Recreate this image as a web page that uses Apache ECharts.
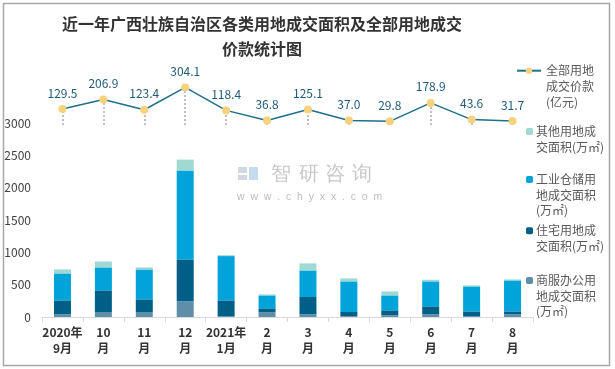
<!DOCTYPE html>
<html>
<head>
<meta charset="utf-8">
<script src="https://cdn.jsdelivr.net/npm/echarts@6/dist/echarts.min.js"></script>
<style>html,body{margin:0;padding:0;background:#fff}#c{width:615px;height:369px}</style>
</head>
<body>
<div id="c"></div>
<script>
var categories = ['2020年\n9月','10\n月','11\n月','12\n月','2021年\n1月','2\n月','3\n月','4\n月','5\n月','6\n月','7\n月','8\n月'];
var commercial = [41, 77, 77, 242, 10, 72, 41, 10, 26, 41, 10, 41];
var residential = [216, 335, 196, 648, 247, 62, 268, 67, 77, 124, 77, 46];
var industrial = [417, 355, 463, 1374, 685, 200, 411, 474, 231, 386, 386, 479];
var other = [62, 92, 31, 170, 15, 16, 109, 46, 62, 25, 16, 15];
var price = [129.5, 206.9, 123.4, 304.1, 118.4, 36.8, 125.1, 37.0, 29.8, 178.9, 43.6, 31.7];
var yTicks = [0, 500, 1000, 1500, 2000, 2500, 3000];

var names = {
  price: '全部用地成交价款(亿元)',
  other: '其他用地成交面积(万㎡)',
  industrial: '工业仓储用地成交面积(万㎡)',
  residential: '住宅用地成交面积(万㎡)',
  commercial: '商服办公用地成交面积(万㎡)'
};
var legendLines = {};
legendLines[names.price] = ['全部用地', '成交价款', '(亿元)'];
legendLines[names.other] = ['其他用地成', '交面积(万㎡)'];
legendLines[names.industrial] = ['工业仓储用', '地成交面积', '(万㎡)'];
legendLines[names.residential] = ['住宅用地成', '交面积(万㎡)'];
legendLines[names.commercial] = ['商服办公用', '地成交面积', '(万㎡)'];

var colors = {
  price: '#1f6f8e', marker: '#f6d27d',
  other: '#a0d8d4', industrial: '#00a3da', residential: '#005f86', commercial: '#5f8fa8'
};

function mkLegend(name, left, iconY, L, iconW, iconH, gap) {
  var lines = legendLines[name];
  var n = lines.length;
  var pre = [];
  for (var k = 0; k < n - 1; k++) pre.push(' ');
  var txt = pre.concat(lines).join('\n');
  return {
    data: [name], orient: 'vertical', left: left, top: iconY - (2 * n - 1) * L / 2,
    padding: 0, itemWidth: iconW, itemHeight: iconH, itemGap: 0,
    formatter: function () { return txt; },
    textStyle: { fontSize: 12, color: '#595959', lineHeight: L, padding: [0, 0, 0, gap - 5],
      fontFamily: '"Noto Sans CJK SC", sans-serif' },
    selectedMode: false
  };
}

var dropLines = price.map(function (v, i) { return [{ coord: [i, 0] }, { coord: [i, v] }]; });

var titleStyle = { fontSize: 16, fontWeight: 'bold', color: '#333333', fontFamily: '"Noto Sans CJK SC", serif' };

var chart = echarts.init(document.getElementById('c'), null, { renderer: 'canvas' });
chart.setOption({
  animation: false,
  textStyle: { fontFamily: '"Noto Sans CJK SC", sans-serif' },
  title: [
    { text: '近一年广西壮族自治区各类用地成交面积及全部用地成交', left: 62, top: 16, padding: 0, textStyle: titleStyle },
    { text: '价款统计图', left: 222, top: 41, padding: 0, textStyle: titleStyle }
  ],
  legend: [
    mkLegend(names.price, 516, 70.7, 16, 24, 8, 5),
    mkLegend(names.other, 526, 131.5, 16, 7, 7, 3),
    mkLegend(names.industrial, 526, 179.5, 15.5, 7, 7, 3),
    mkLegend(names.residential, 526, 230.7, 15.5, 7, 7, 3),
    mkLegend(names.commercial, 526, 280.5, 15.5, 7, 7, 3)
  ],
  grid: [
    { left: 42, right: 82, top: 123, bottom: 52 },
    { left: 42, right: 82, top: 75, height: 50 }
  ],
  xAxis: [
    { type: 'category', gridIndex: 0, data: categories, boundaryGap: true,
      axisLine: { lineStyle: { color: '#d9d9d9', width: 1 } },
      axisTick: { show: true, length: 5, lineStyle: { color: '#d9d9d9' } },
      axisLabel: { interval: 0, margin: 7, fontSize: 12, fontWeight: 'bold', color: '#333', lineHeight: 16 } },
    { type: 'category', gridIndex: 1, data: categories, show: false }
  ],
  yAxis: [
    { type: 'value', gridIndex: 0, min: yTicks[0], max: yTicks[yTicks.length - 1], interval: 500,
      axisLine: { show: false }, axisTick: { show: false }, splitLine: { show: false },
      axisLabel: { margin: 11, fontSize: 12, color: '#404040', formatter: function (v) { return String(v); } } },
    { type: 'value', gridIndex: 1, min: 0, max: 405, show: false, splitLine: { show: false } }
  ],
  series: [
    { name: names.commercial, type: 'bar', stack: 'a', barWidth: 17, data: commercial, itemStyle: { color: colors.commercial } },
    { name: names.residential, type: 'bar', stack: 'a', barWidth: 17, data: residential, itemStyle: { color: colors.residential } },
    { name: names.industrial, type: 'bar', stack: 'a', barWidth: 17, data: industrial, itemStyle: { color: colors.industrial } },
    { name: names.other, type: 'bar', stack: 'a', barWidth: 17, data: other, itemStyle: { color: colors.other } },
    { name: names.price, type: 'line', xAxisIndex: 1, yAxisIndex: 1, data: price,
      symbol: 'circle', symbolSize: 8, z: 5,
      lineStyle: { color: colors.price, width: 1.5 },
      itemStyle: { color: colors.marker },
      label: { show: true, position: 'top', distance: 6, fontSize: 12, color: '#1f5a7c',
        formatter: function (p) { return p.value.toFixed(1); } },
      markLine: { silent: true, symbol: 'none', label: { show: false },
        lineStyle: { type: [2, 2], color: '#c0c0c0', width: 2 }, data: dropLines, z: 1 }
    }
  ],
  graphic: [
    { type: 'rect', z: -10, shape: { x: 3.5, y: 3.5, width: 606, height: 362 },
      style: { fill: 'none', stroke: '#a6a6a6', lineWidth: 1.5 } },
    { type: 'rect', z: -5, shape: { x: 238, y: 167, width: 9, height: 6 }, style: { fill: '#cfd8e3' } },
    { type: 'rect', z: -5, shape: { x: 238, y: 175, width: 9, height: 5 }, style: { fill: '#cfd8e3' } },
    { type: 'rect', z: -5, shape: { x: 249, y: 167, width: 9, height: 13 }, style: { fill: '#c5dcef' } },
    { type: 'text', z: -5, x: 271, y: 174, style: { text: '智', fontSize: 20, fill: '#c8c8c8', verticalAlign: 'middle' } },
    { type: 'text', z: -5, x: 299, y: 174, style: { text: '研', fontSize: 20, fill: '#c8c8c8', verticalAlign: 'middle' } },
    { type: 'text', z: -5, x: 325, y: 174, style: { text: '咨', fontSize: 20, fill: '#c8c8c8', verticalAlign: 'middle' } },
    { type: 'text', z: -5, x: 352, y: 174, style: { text: '询', fontSize: 20, fill: '#c8c8c8', verticalAlign: 'middle' } },
    { type: 'text', z: -5, x: 237, y: 197.5, style: { text: 'w  w  w  .  c  h  y  x  x  .  c  o  m', fontSize: 10.5, fill: '#bdbdbd', verticalAlign: 'middle' } }
  ]
});
</script>
</body>
</html>
